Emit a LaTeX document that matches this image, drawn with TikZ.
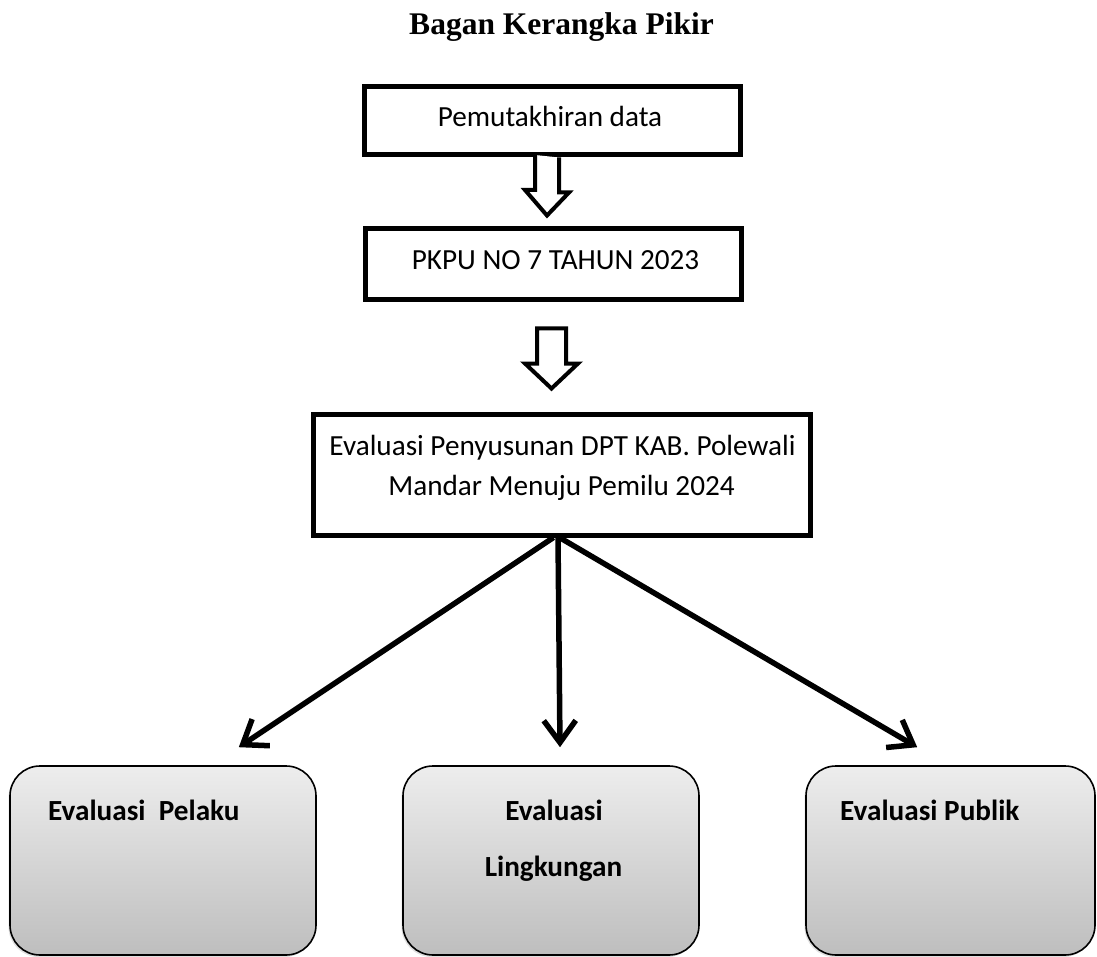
\documentclass[tikz,border=0pt]{standalone}
\usepackage{fontspec}
\setmainfont{Carlito}
\newfontfamily\titlefont{Liberation Serif}
\usetikzlibrary{arrows.meta,calc,shadows}
\definecolor{gtop}{RGB}{237,237,237}
\definecolor{gbot}{RGB}{190,190,190}
\tikzset{
  sqbox/.style={draw=black, line width=5pt, fill=white, inner sep=0pt},
  roundbox/.style={draw=black, line width=1.6pt, rounded corners=30pt, top color=gtop, bottom color=gbot, inner sep=0pt,
    general shadow={fill=black!12, shadow xshift=-1.5pt, shadow yshift=-2pt}},
  hollow/.style={draw=black, line width=4pt, fill=white, line join=miter},
  thinarrow/.style={draw=black, line width=5.5pt, -{Straight Barb[length=22pt,width=32pt,line width=5.5pt]}},
  boxtext/.style={font=\fontsize{29.2}{40}\selectfont, inner sep=0pt, anchor=base},
  boldtext/.style={font=\fontsize{29.2}{32}\selectfont\bfseries, inner sep=0pt},
}
\begin{document}
\begin{tikzpicture}[x=1pt,y=-1pt]
\useasboundingbox (0,0) rectangle (1097,957);
% title
\node[font=\titlefont\fontsize{31.5}{36}\selectfont\bfseries, inner sep=0pt, anchor=base] (title) at (561.5,35) {Bagan Kerangka Pikir};
% boxes
\node[sqbox, minimum width=376pt, minimum height=68pt] (b1) at (552,121) {};
\node[sqbox, minimum width=376pt, minimum height=71pt] (b2) at (553,264.5) {};
\node[sqbox, minimum width=497pt, minimum height=121pt] (b3) at (561.5,474.5) {};
\node[boxtext] (t1) at (550,127) {Pemutakhiran data};
\node[boxtext] (t2) at (555.5,270) {PKPU NO 7 TAHUN 2023};
\node[boxtext] (t3a) at (562.5,455) {Evaluasi Penyusunan DPT KAB. Polewali};
\node[boxtext] (t3b) at (561.5,495) {Mandar Menuju Pemilu 2024};
% bottom boxes
\node[roundbox, minimum width=306pt, minimum height=189pt] (p1) at (163,860.5) {};
\node[roundbox, minimum width=296pt, minimum height=189pt] (p2) at (551,860.5) {};
\node[roundbox, minimum width=289pt, minimum height=189pt] (p3) at (950.5,860.5) {};
\node[boldtext, anchor=base west] (l1) at (48,820) {Evaluasi\ \ Pelaku};
\node[boldtext, anchor=base] (l2a) at (554,820) {Evaluasi};
\node[boldtext, anchor=base] (l2b) at (553.5,876) {Lingkungan};
\node[boldtext, anchor=base west] (l3) at (840,820) {Evaluasi Publik};
% hollow arrows
\draw[hollow] ($(b1.south)+(-17,-2.5)$) -- ++(0,35) -- ++(-10,0) -- ($(b1.south)+(-5,58)$) -- ++(22,-23) -- ++(-10,0) -- ++(0,-35);
\draw[hollow] ($(b2.south)+(-16,26)$) -- ++(0,35) -- ++(-12,0) -- ($(b2.south)+(-1.5,86)$) -- ++(26.5,-25) -- ++(-12,0) -- ++(0,-35) -- cycle;
% arrows
\draw[thinarrow] ([xshift=-8pt]b3.south) -- ($(p1.north east)+(-78,-18)$);
\draw[thinarrow] ([xshift=-3.5pt]b3.south) -- ($(p2.north)+(9,-18)$);
\draw[thinarrow] ([xshift=-2pt]b3.south) -- ($(p3.north west)+(112,-18)$);
\end{tikzpicture}
\end{document}
